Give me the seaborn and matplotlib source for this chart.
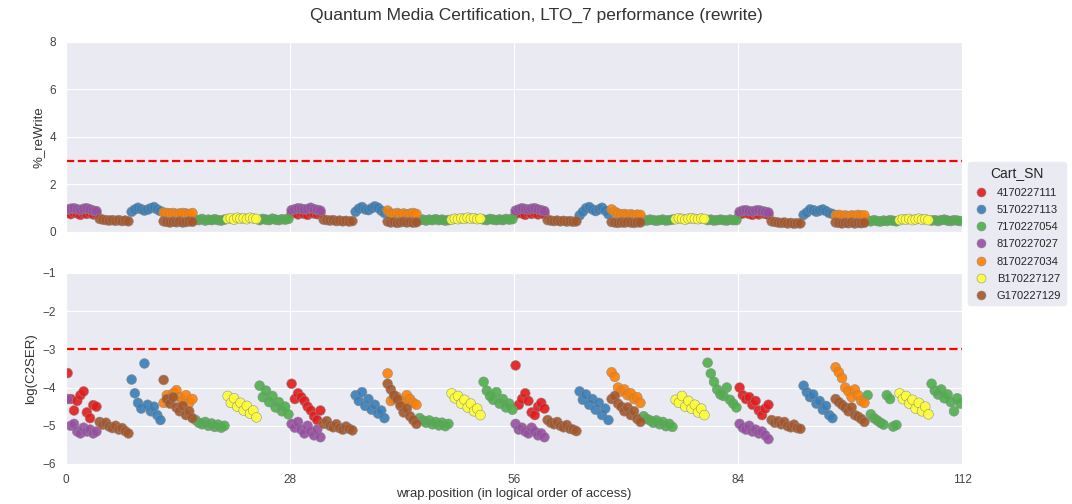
"""
Quantum media certification chart: %_reWrite and log(C2SER) per wrap position.
"""

import matplotlib
matplotlib.use("Agg")
import matplotlib.pyplot as plt
import numpy as np
import pandas as pd
import seaborn as sns

# sample offsets inside one 4-wrap block
WRAP_STEP = [0.2, 0.6, 1.0, 1.4, 1.8, 2.2, 2.6, 3.0, 3.4, 3.8]

CART_ORDER = ["4170227111", "5170227113", "7170227054", "8170227027",
              "8170227034", "B170227127", "G170227129"]

# 4170227111 (red)
C111_START = [0, 28, 56, 84]
C111_RW = [
    [0.80, 0.75, 0.82, 0.78, 0.72, 0.80, 0.76, 0.82, 0.74, 0.78],
    [0.78, 0.82, 0.74, 0.80, 0.76, 0.72, 0.80, 0.78, 0.75, 0.80],
    [0.76, 0.80, 0.78, 0.72, 0.82, 0.76, 0.80, 0.74, 0.78, 0.76],
    [0.74, 0.78, 0.80, 0.76, 0.72, 0.78, 0.74, 0.80, 0.76, 0.72],
]
C111_SER = [
    [-3.62, -4.30, -4.60, -4.35, -4.20, -4.10, -4.65, -4.80, -4.46, -4.50],
    [-3.90, -4.30, -4.15, -4.25, -4.35, -4.50, -4.60, -4.75, -4.85, -4.60],
    [-3.42, -4.45, -4.30, -4.15, -4.35, -4.65, -4.72, -4.50, -4.40, -4.55],
    [-4.00, -4.20, -4.30, -4.25, -4.45, -4.35, -4.60, -4.72, -4.55, -4.45],
]

# 5170227113 (blue)
C113_START = [8, 36, 64, 92]
C113_RW = [
    [0.85, 0.95, 1.02, 0.96, 0.90, 0.94, 1.00, 1.05, 0.95, 0.88],
    [0.85, 0.98, 1.05, 0.95, 0.92, 1.00, 1.08, 1.02, 0.90, 0.80],
    [0.70, 0.85, 1.00, 1.05, 0.95, 0.88, 0.95, 1.02, 0.90, 0.75],
    [0.72, 0.82, 0.95, 0.92, 0.85, 0.90, 0.95, 0.88, 0.80, 0.76],
]
C113_SER = [
    [-3.79, -4.15, -4.40, -4.55, -3.37, -4.45, -4.62, -4.50, -4.72, -4.85],
    [-4.20, -4.35, -4.12, -4.48, -4.30, -4.58, -4.45, -4.68, -4.60, -4.80],
    [-4.10, -4.32, -4.18, -4.45, -4.30, -4.58, -4.40, -4.72, -4.55, -4.85],
    [-3.95, -4.12, -4.25, -4.18, -4.42, -4.35, -4.58, -4.48, -4.72, -4.80],
]

# 7170227054 (green)
C054_START = [16, 24, 44, 52, 72, 80, 100, 108]
C054_RW = [
    [0.52, 0.50, 0.55, 0.48, 0.52, 0.50, 0.54, 0.50, 0.48, 0.52],
    [0.50, 0.55, 0.52, 0.50, 0.56, 0.52, 0.50, 0.54, 0.52, 0.55],
    [0.50, 0.52, 0.48, 0.52, 0.50, 0.54, 0.50, 0.52, 0.48, 0.50],
    [0.52, 0.50, 0.55, 0.52, 0.50, 0.53, 0.50, 0.55, 0.52, 0.54],
    [0.50, 0.48, 0.52, 0.50, 0.47, 0.50, 0.52, 0.48, 0.50, 0.52],
    [0.50, 0.52, 0.48, 0.50, 0.52, 0.50, 0.48, 0.52, 0.50, 0.50],
    [0.48, 0.45, 0.50, 0.46, 0.44, 0.48, 0.46, 0.50, 0.47, 0.45],
    [0.48, 0.50, 0.46, 0.50, 0.52, 0.48, 0.46, 0.50, 0.48, 0.46],
]
C054_SER = [
    [-4.85, -4.92, -4.96, -4.90, -5.00, -4.94, -5.03, -4.97, -5.05, -5.00],
    [-3.95, -4.25, -4.08, -4.38, -4.22, -4.52, -4.38, -4.62, -4.50, -4.70],
    [-4.80, -4.86, -4.92, -4.86, -4.96, -4.90, -4.99, -4.92, -5.01, -4.95],
    [-3.85, -4.08, -4.22, -4.32, -4.12, -4.42, -4.30, -4.52, -4.42, -4.58],
    [-4.75, -4.82, -4.86, -4.92, -4.86, -4.96, -4.90, -5.01, -4.95, -5.03],
    [-3.35, -3.63, -3.85, -4.05, -4.18, -4.22, -4.00, -4.32, -4.42, -4.52],
    [-4.20, -4.70, -4.80, -4.86, -4.92, -4.97, -4.20, -4.30, -5.02, -4.98],
    [-3.90, -4.08, -4.18, -4.05, -4.28, -4.18, -4.38, -4.62, -4.28, -4.42],
]

# 8170227027 (purple)
C027_START = [0, 28, 56, 84]
C027_RW = [
    [0.95, 0.98, 1.00, 0.96, 0.92, 0.98, 1.00, 0.95, 0.90, 0.88],
    [0.92, 0.96, 1.00, 0.98, 0.95, 0.97, 1.02, 0.96, 0.93, 0.90],
    [0.90, 0.95, 1.00, 0.97, 0.94, 0.98, 1.00, 0.95, 0.92, 0.88],
    [0.85, 0.90, 0.92, 0.88, 0.86, 0.90, 0.92, 0.88, 0.85, 0.82],
]
C027_SER = [
    [-4.30, -5.00, -4.95, -5.15, -5.20, -5.05, -5.15, -5.10, -5.20, -5.15],
    [-4.95, -5.05, -4.90, -5.10, -5.20, -5.00, -5.15, -5.25, -5.10, -5.30],
    [-4.95, -5.10, -5.05, -5.15, -5.20, -5.05, -5.15, -5.25, -5.20, -5.30],
    [-4.95, -5.05, -5.10, -5.00, -5.15, -5.10, -5.20, -5.15, -5.25, -5.35],
]

# 8170227034 (orange)
C034_START = [12, 40, 68, 96]
C034_RW = [
    [0.82, 0.80, 0.78, 0.80, 0.76, 0.78, 0.80, 0.78, 0.75, 0.80],
    [0.90, 0.78, 0.76, 0.80, 0.75, 0.78, 0.74, 0.77, 0.80, 0.76],
    [0.95, 0.85, 0.78, 0.74, 0.76, 0.72, 0.75, 0.70, 0.73, 0.72],
    [0.70, 0.72, 0.68, 0.70, 0.66, 0.70, 0.68, 0.72, 0.69, 0.70],
]
C034_SER = [
    [-4.40, -4.20, -4.30, -4.15, -4.07, -4.25, -4.35, -4.20, -4.40, -4.30],
    [-3.63, -4.35, -4.30, -4.25, -4.40, -4.35, -4.20, -4.30, -4.40, -4.45],
    [-3.60, -3.72, -4.00, -4.10, -4.05, -4.20, -4.15, -4.30, -4.25, -4.40],
    [-3.47, -3.60, -3.75, -4.00, -4.10, -4.25, -4.05, -4.20, -4.35, -4.40],
]

# B170227127 (yellow)
C127_START = [20, 48, 76, 104]
C127_RW = [
    [0.55, 0.58, 0.52, 0.60, 0.56, 0.58, 0.54, 0.60, 0.57, 0.55],
    [0.52, 0.56, 0.54, 0.58, 0.55, 0.60, 0.56, 0.58, 0.54, 0.56],
    [0.54, 0.58, 0.55, 0.52, 0.56, 0.58, 0.55, 0.54, 0.57, 0.55],
    [0.50, 0.54, 0.52, 0.55, 0.50, 0.53, 0.56, 0.52, 0.54, 0.50],
]
C127_SER = [
    [-4.22, -4.40, -4.28, -4.50, -4.40, -4.60, -4.48, -4.68, -4.60, -4.78],
    [-4.15, -4.28, -4.22, -4.42, -4.32, -4.52, -4.42, -4.62, -4.55, -4.72],
    [-4.32, -4.40, -4.22, -4.50, -4.35, -4.55, -4.45, -4.65, -4.55, -4.72],
    [-4.15, -4.30, -4.22, -4.42, -4.32, -4.55, -4.40, -4.62, -4.50, -4.70],
]

# G170227129 (brown)
C129_START = [4, 12, 32, 40, 60, 68, 88, 96]
C129_RW = [
    [0.55, 0.52, 0.50, 0.48, 0.50, 0.47, 0.50, 0.46, 0.48, 0.45],
    [0.45, 0.42, 0.40, 0.43, 0.41, 0.44, 0.40, 0.42, 0.45, 0.43],
    [0.52, 0.50, 0.48, 0.50, 0.46, 0.48, 0.45, 0.47, 0.44, 0.46],
    [0.44, 0.40, 0.42, 0.38, 0.41, 0.43, 0.40, 0.42, 0.39, 0.41],
    [0.50, 0.48, 0.46, 0.48, 0.45, 0.47, 0.44, 0.46, 0.43, 0.45],
    [0.42, 0.40, 0.38, 0.41, 0.39, 0.42, 0.40, 0.38, 0.41, 0.40],
    [0.45, 0.42, 0.40, 0.38, 0.40, 0.36, 0.38, 0.35, 0.37, 0.36],
    [0.40, 0.38, 0.36, 0.39, 0.37, 0.40, 0.36, 0.38, 0.37, 0.39],
]
C129_SER = [
    [-4.90, -4.97, -4.92, -5.02, -5.06, -5.00, -5.10, -5.06, -5.14, -5.20],
    [-3.80, -4.30, -4.42, -4.25, -4.52, -4.62, -4.48, -4.72, -4.62, -4.80],
    [-4.95, -4.88, -5.00, -5.04, -4.96, -5.06, -5.10, -5.02, -5.08, -5.12],
    [-3.90, -4.05, -4.20, -4.30, -4.48, -4.65, -4.55, -4.75, -4.85, -4.95],
    [-4.85, -4.92, -4.96, -4.90, -5.00, -5.04, -4.98, -5.08, -5.10, -5.14],
    [-4.30, -4.22, -4.42, -4.50, -4.62, -4.52, -4.72, -4.62, -4.82, -4.90],
    [-4.85, -4.92, -4.88, -4.96, -4.90, -5.01, -5.04, -4.97, -5.06, -5.08],
    [-4.30, -4.38, -4.45, -4.52, -4.62, -4.52, -4.72, -4.76, -4.82, -4.90],
]

REWRITE_LIMIT = 3
C2SER_LIMIT = -3
X_TICKS = [0, 28, 56, 84, 112]


def build_frame():
    carts = [
        (CART_ORDER[0], C111_START, C111_RW, C111_SER),
        (CART_ORDER[1], C113_START, C113_RW, C113_SER),
        (CART_ORDER[2], C054_START, C054_RW, C054_SER),
        (CART_ORDER[3], C027_START, C027_RW, C027_SER),
        (CART_ORDER[4], C034_START, C034_RW, C034_SER),
        (CART_ORDER[5], C127_START, C127_RW, C127_SER),
        (CART_ORDER[6], C129_START, C129_RW, C129_SER),
    ]
    rows = []
    for sn, starts, rw, ser in carts:
        for start, rw_vals, ser_vals in zip(starts, rw, ser):
            for step, r, c in zip(WRAP_STEP, rw_vals, ser_vals):
                rows.append({"wrap": start + step, "rewrite": r, "c2ser": c, "Cart_SN": sn})
    return pd.DataFrame(rows)


df = build_frame()

sns.set_style("darkgrid")
plt.rcParams["font.family"] = ["Liberation Sans", "DejaVu Sans"]

fig = plt.figure(figsize=(10.72, 5.04), dpi=100)
ax_top = fig.add_axes([0.0616, 0.5397, 0.8358, 0.377])
ax_bot = fig.add_axes([0.0616, 0.0794, 0.8358, 0.379], sharex=ax_top)

kw = dict(hue="Cart_SN", hue_order=CART_ORDER, palette="Set1", s=50,
          edgecolor="#8a8a8a", linewidth=0.4, alpha=0.9)
sns.scatterplot(data=df, x="wrap", y="rewrite", ax=ax_top, legend=True, **kw)
sns.scatterplot(data=df, x="wrap", y="c2ser", ax=ax_bot, legend=False, **kw)

handles, labels = ax_top.get_legend_handles_labels()
ax_top.get_legend().remove()

ax_top.axhline(REWRITE_LIMIT, color="red", linestyle="--", linewidth=1.6)
ax_bot.axhline(C2SER_LIMIT, color="red", linestyle="--", linewidth=1.6)

ax_top.set_ylim(0, 8)
ax_top.set_yticks([0, 2, 4, 6, 8])
ax_bot.set_ylim(-6, -1)
ax_bot.set_yticks([-6, -5, -4, -3, -2, -1])
ax_bot.set_xlim(0, 112)
ax_bot.set_xticks(X_TICKS)
ax_top.tick_params(labelbottom=False)

for ax in (ax_top, ax_bot):
    ax.tick_params(labelsize=8.5, colors="#444444")
ax_top.set_xlabel("")
ax_top.set_ylabel("%_reWrite", fontsize=9.5, color="#333333")
ax_bot.set_ylabel("log(C2SER)", fontsize=9.5, color="#333333")
ax_bot.set_xlabel("wrap.position (in logical order of access)", fontsize=9.5,
                  color="#333333", labelpad=2)

fig.suptitle("Quantum Media Certification, LTO_7 performance (rewrite)",
             fontsize=12.5, color="#333333", y=0.985)

leg = fig.legend(handles, labels, title="Cart_SN", loc="upper left",
                 bbox_to_anchor=(968 / 1072, 1 - 162 / 504), borderaxespad=0,
                 fontsize=8, title_fontsize=10, labelspacing=0.65,
                 handlelength=1.6, handletextpad=0.6,
                 frameon=True, facecolor="#EAEAF2", edgecolor="#EAEAF2",
                 framealpha=1.0)
for h in leg.legend_handles:
    h.set_markersize(6.5)

fig.savefig("out.png", dpi=100)
plt.close(fig)
